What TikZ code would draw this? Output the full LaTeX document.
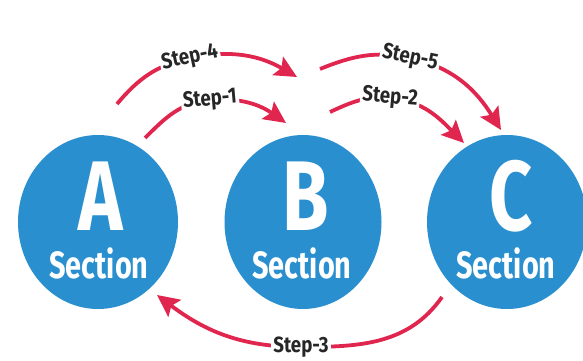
\documentclass[tikz,border=0pt]{standalone}
\usepackage{fontspec}
\usetikzlibrary{shapes.geometric,arrows.meta,calc}
\newfontfamily\condfont{Fira Sans}[FakeStretch=0.76]
\newfontfamily\lblfont{Fira Sans}[FakeStretch=0.85]
\definecolor{secblue}{HTML}{2A8FCF}
\definecolor{arrred}{HTML}{E0264E}
\definecolor{lbltext}{HTML}{262626}
\begin{document}
\begin{tikzpicture}[x=1pt,y=1pt,
  sec/.style={ellipse, fill=secblue, minimum width=160pt, minimum height=174pt, inner sep=0pt},
  bigletter/.style={text=white, font=\condfont\bfseries\fontsize{99}{99}\selectfont, inner sep=0pt},
  sectxt/.style={text=white, font=\condfont\bfseries\fontsize{38}{38}\selectfont, inner sep=0pt},
  steplbl/.style={fill=white, text=lbltext, font=\lblfont\bfseries\fontsize{22}{22}\selectfont, inner sep=2pt},
  conn/.style={draw=arrred, line width=3.8pt, -{Stealth[length=22pt,width=21pt,inset=4pt]}}]
\useasboundingbox (0,0) rectangle (583,361);
% sections
\node[sec] (A) at (98,139) {};
\node[sec, minimum width=157pt] (B) at (303,139) {};
\node[sec] (C) at (507,139) {};
\node[bigletter] (Aletter) at ($(A)+(3,26)$) {A};
\node[bigletter] (Bletter) at ($(B)+(3,26)$) {B};
\node[bigletter] (Cletter) at ($(C)+(4,26)$) {C};
\node[sectxt] (Asec) at ($(A)+(1,-41)$) {Section};
\node[sectxt] (Bsec) at ($(B)+(-1,-41)$) {Section};
\node[sectxt] (Csec) at ($(C)+(-1,-41)$) {Section};
% connector end points
\coordinate (s4) at (117,257);
\coordinate (l4) at (190,303);
\coordinate (t4) at (297,284);
\coordinate (s1) at (145,223);
\coordinate (l1) at (210,261);
\coordinate (t1) at (286,238);
\coordinate (s5) at (320,292);
\coordinate (l5) at (410,303);
\coordinate (t5) at (501,231);
\coordinate (s2) at (330,249);
\coordinate (l2) at (390,263);
\coordinate (t2) at (464,218);
\coordinate (s3) at (442,64);
\coordinate (l3) at (301,14);
\coordinate (t3) at (157,66);
% connectors
\draw[conn] (s4) to[out=50,in=192] (l4) to[out=12,in=150] (t4);
\draw[conn] (s1) to[out=45,in=185] (l1) to[out=5,in=145] (t1);
\draw[conn] (s5) to[out=22,in=168] (l5) to[out=-12,in=122] (t5);
\draw[conn] (s2) to[out=25,in=175] (l2) to[out=-5,in=135] (t2);
\draw[conn] (s3) to[out=235,in=0] (l3) to[out=180,in=-37] (t3);
% labels
\node[steplbl, rotate=12] (L4) at (l4) {Step-4};
\node[steplbl, rotate=5] (L1) at (l1) {Step-1};
\node[steplbl, rotate=-12] (L5) at (l5) {Step-5};
\node[steplbl, rotate=-5] (L2) at (l2) {Step-2};
\node[steplbl] (L3) at (l3) {Step-3};
\end{tikzpicture}
\end{document}
